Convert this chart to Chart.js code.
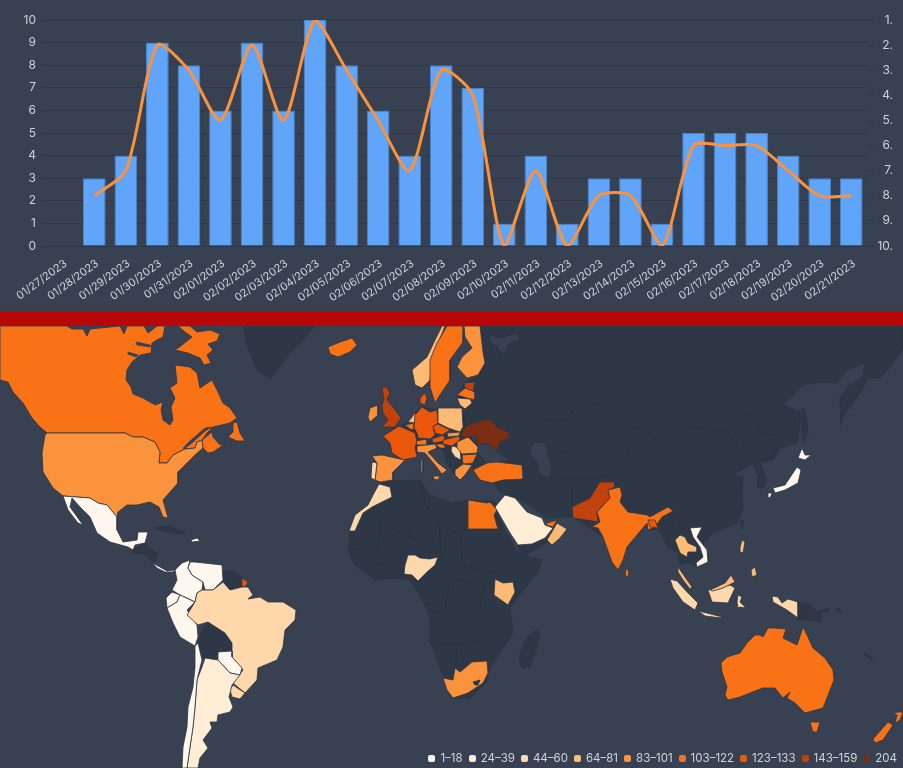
<!DOCTYPE html>
<html>
<head>
<meta charset="utf-8">
<script src="https://cdn.jsdelivr.net/npm/chart.js@4"></script>
<style>
  html, body { margin: 0; padding: 0; background: #374151; overflow: hidden; }
  body { width: 903px; height: 768px; position: relative; font-family: Inter, sans-serif; }
  #grafico-barras { position: absolute; left: 0; top: 0; }
  #faixa { position: absolute; left: 0; top: 311px; width: 903px; height: 15px; background: #b80707; z-index: 2; }
  #grafico-mapa { position: absolute; left: 0; top: 326px; }
  #legenda { position: absolute; right: 6px; top: 751px; display: flex; font-size: 11.5px; line-height: 14px; color: #d1d5db; z-index: 3; }
  #legenda span.item { display: flex; align-items: center; margin-left: 6px; }
  #legenda i { display: block; width: 7px; height: 7px; border-radius: 2px; margin-right: 5px; }
</style>
</head>
<body>
<canvas id="grafico-barras" width="903" height="311"></canvas>
<div id="faixa"></div>
<canvas id="grafico-mapa" width="903" height="442"></canvas>
<div id="legenda"></div>
<script>
// top chart
const dias = ['01/27/2023','01/28/2023','01/29/2023','01/30/2023','01/31/2023','02/01/2023','02/02/2023','02/03/2023','02/04/2023','02/05/2023','02/06/2023','02/07/2023','02/08/2023','02/09/2023','02/10/2023','02/11/2023','02/12/2023','02/13/2023','02/14/2023','02/15/2023','02/16/2023','02/17/2023','02/18/2023','02/19/2023','02/20/2023','02/21/2023'];
const quantidade = [null,3,4,9,8,6,9,6,10,8,6,4,8,7,1,4,1,3,3,1,5,5,5,4,3,3];
const posicao = [null,8,7,2,3,5,2,5,1,3,5,7,3,4,10,7,10,8,8,10,6,6,6,7,8,8];

// map legend
const faixas = ['1–18','24–39','44–60','64–81','83–101','103–122','123–133','143–159','204'];
const coresFaixas = ['#fff7ed','#ffedd5','#fed7aa','#fdba74','#fb923c','#f97316','#ea580c','#c2410c','#7c2d12'];

// map outlines, x,y pairs in map units (903 x 442 sheet, y from 326)
const greenland = [243,326,248,347,257,370,270,379,277,370,290,353,303,340,315,326];
const eurasia = [480,326,903,326,903,348,890,367,880,378,868,378,862,390,842,418,841,425,840,398,850,385,863,377,865,363,847,370,837,383,823,382,803,385,783,405,800,412,800,422,797,443,780,448,773,460,753,463,733,475,743,477,742,490,743,507,737,523,713,533,707,540,703,543,708,553,708,562,697,567,688,562,680,565,678,553,668,547,658,528,650,530,647,520,625,550,618,568,603,537,593,530,573,517,560,517,547,518,527,503,515,498,505,495,498,490,495,483,480,480,473,470,473,463,477,454,478,447,475,435,465,430,462,408,457,398,464,383,478,376,485,363,483,352];
const europeBase = [383,436,399,426,408,422,415,413,422,407,437,410,462,408,465,430,478,447,477,454,473,463,455,475,450,467,445,450,437,448,428,452,417,452,403,460,392,453,390,443];
const balkans = [443,448,455,447,461,460,463,464,455,470,450,467,447,463];
const africa = [379,484,393,481,420,480,430,495,452,503,468,500,495,502,500,520,517,553,542,560,537,573,517,598,510,607,513,633,497,657,488,673,487,682,470,698,452,698,445,680,437,660,430,640,430,620,428,612,420,595,410,580,395,578,375,580,355,565,348,550,350,531,355,515,368,505,373,495];
const madagascar = [537,629,540,633,537,647,530,667,522,668,519,658,525,640];
const yemen = [518,545,532,544,545,538,547,542,522,557];
const centralAmerica = [133,550,145,543,148,548,158,553,155,562,150,560,143,553,133,553];
const cuba = [155,528,170,526,185,533,175,534,160,530];
const guyanas = [223,572,232,570,243,578,242,587,230,590,223,580];
const bolivia = [208,622,225,633,232,643,232,651,218,652,213,660,203,657,197,646,199,637];
const korea = [753,465,760,463,767,480,763,488,757,487,758,477];
const taiwan = [740,522,744,520,742,529];
const sakhalin = [802,408,805,410,808,433,803,443,802,427];
const papua = [798,602,810,605,817,612,830,608,827,612,820,612,822,622,810,620,798,620];
const lesotho = [473,682,480,680,478,685,475,685];
const solomon = [837,608,843,612,842,613,836,609];
const vanuatu = [865,653,873,658,872,660,864,655];

const hudsonChannelA = [128,352,138,355,136,357,128,354];
const hudsonChannelB = [136,342,150,345,150,347,137,345];
const stLawrence = [183,448,190,441,205,428,212,427,205,431,192,443,184,449];
const blackSea = [478,445,490,443,497,450,497,452,510,460,498,463,487,463,477,453];
const caspian = [533,443,545,442,548,455,552,470,548,478,540,475,537,462,530,455];
const whiteSea = [488,333,497,338,503,337,517,333,520,340,510,343,503,355,497,347,490,342];

const canada = [0,326,67,326,72,329,83,329,87,336,90,329,120,326,124,334,127,326,144,326,148,333,157,326,165,326,163,337,157,340,152,343,151,353,140,355,132,362,127,370,126,380,131,387,133,394,143,398,155,405,163,402,161,410,163,420,170,425,173,420,171,407,175,398,170,388,177,383,175,365,190,367,197,373,200,388,212,380,218,392,223,403,230,408,237,418,230,423,213,427,207,433,202,440,197,442,195,448,185,449,173,455,167,463,159,463,160,452,155,442,143,437,133,437,125,433,47,433,40,427,32,418,23,403,13,392,8,382,0,380];
const baffin = [178,326,190,326,197,332,210,330,220,334,217,341,208,344,213,350,207,355,211,363,204,365,200,358,188,353,175,350,182,345,192,337,185,332];
const newfoundland = [233,423,237,422,240,433,245,441,237,441,228,437,233,432];
const maritimes = [202,440,212,432,213,437,220,445,225,444,213,452,208,453,203,448];
const usa = [45,435,47,433,125,433,133,437,143,437,155,442,160,452,159,463,167,463,173,455,185,449,195,448,197,442,202,440,203,448,195,455,187,463,178,472,178,483,170,492,163,500,168,518,163,517,159,507,150,502,137,505,127,505,118,512,117,517,107,505,98,503,90,498,63,496,53,488,43,472,42,453];
const mexico = [63,496,90,498,98,503,107,505,117,517,117,530,123,542,137,540,138,532,148,532,145,543,135,545,133,550,128,547,110,542,97,533,90,517,80,507,72,498,70,507,83,525,78,523,68,510];
const dominican = [191,540,197,538,200,541,192,542];
const panama = [152,563,160,567,167,571,175,570,173,572,165,572,157,568];
const colombia = [175,570,182,563,190,560,188,568,192,575,203,582,202,590,197,593,195,602,187,598,180,595,172,590,177,580];
const venezuela = [190,562,195,562,222,565,223,580,213,590,205,590,203,582,192,575,188,568];
const ecuador = [172,592,180,595,177,602,167,608,166,598];
const peru = [167,608,177,602,180,595,195,602,187,610,192,617,197,625,198,637,195,646,180,637,173,623];
const frenchGuiana = [242,578,248,582,245,587,242,586];
const brazil = [197,593,202,590,213,590,223,582,230,590,242,587,248,587,253,595,248,599,260,597,268,602,283,602,296,610,295,620,285,630,283,647,277,660,258,668,257,680,245,693,233,683,243,670,232,657,232,643,225,633,208,622,198,625,187,615,195,602];
const paraguay = [218,652,232,651,232,657,242,668,240,675,230,673,218,660];
const uruguay = [233,685,245,693,240,699,232,697,230,690];
const argentina = [205,658,218,660,230,673,240,675,232,685,229,697,233,707,230,712,218,715,217,722,210,722,212,728,203,740,208,748,200,758,198,768,187,768,190,747,193,727,195,707,197,680,202,667];
const chile = [195,646,198,643,202,660,197,680,195,707,193,727,190,747,187,768,182,768,183,747,187,727,188,707,193,687,195,667];

const iceland = [328,347,340,342,352,338,357,345,350,352,338,357,330,354];
const norway = [442,326,445,326,432,358,430,380,422,388,415,385,412,370,427,357,435,340];
const sweden = [447,326,464,326,463,342,450,360,450,380,440,395,435,403,430,387,430,360,437,343];
const finland = [464,326,480,326,483,352,485,363,478,375,467,378,457,367,462,357,472,348,465,337];
const estonia = [464,383,475,382,473,392,465,388];
const latvia = [457,395,465,388,475,392,475,400,467,398];
const lithuania = [457,398,470,399,472,403,465,409,460,405];
const denmark = [420,398,425,393,427,398,425,405,420,403];
const uk = [382,388,387,387,390,393,387,400,393,407,401,418,395,427,382,427,388,420,383,413,382,405,384,400];
const ireland = [370,408,378,405,378,415,370,422,368,417];
const france = [383,436,399,426,415,433,417,442,415,447,417,457,403,460,392,453,390,443];
const netherlands = [408,422,415,413,417,418,414,423];
const belgium = [405,425,414,423,414,430,410,429];
const germany = [422,407,430,412,437,410,438,423,433,427,435,435,430,439,418,438,417,433,414,428,415,415];
const poland = [438,408,462,408,463,427,460,432,448,428,438,423];
const czechia = [433,426,438,424,450,430,442,435,435,433];
const slovakia = [447,433,460,432,459,436,448,437];
const austria = [432,439,443,435,446,441,433,443];
const hungary = [443,440,459,436,460,440,452,446,443,444];
const switzerland = [416,441,427,439,427,445,417,445];
const italy = [417,446,427,445,435,444,437,448,428,452,438,463,447,470,442,474,435,465,425,453,417,452];
const sardinia = [421,460,423,460,423,472,421,472];
const sicily = [433,476,440,476,438,480,434,479];
const croatia = [435,444,443,444,446,448,440,448];
const serbia = [452,446,460,448,461,460,455,457,451,451];
const romania = [457,442,468,437,478,447,477,453,462,454,457,448];
const bulgaria = [462,455,477,454,473,463,463,464];
const ukraine = [461,435,465,427,473,423,490,419,497,427,508,432,510,437,500,442,497,450,492,448,490,443,478,445,475,435,465,438];
const spain = [372,456,382,455,405,460,393,472,393,480,380,482,375,480,377,463];
const portugal = [372,462,377,463,375,480,371,478];
const greece = [455,470,463,464,472,465,465,475,460,480,455,475];
const turkey = [473,470,487,463,497,462,522,465,523,479,503,480,492,483,480,480];

const morocco = [379,484,390,487,392,497,380,503,372,507,363,513,355,531,349,531,355,515,368,505,373,495];
const egypt = [468,500,487,503,490,502,497,510,494,515,498,529,468,529];
const nigeria = [408,555,415,555,420,558,430,559,438,557,435,565,427,572,418,581,412,575,404,574,405,565];
const kenya = [495,579,503,583,513,582,515,592,508,605,494,595];
const southAfrica = [443,678,453,680,455,668,460,672,472,662,487,661,488,673,483,683,468,693,453,698,447,690];
const saudi = [495,507,505,495,515,498,527,512,542,518,545,525,553,528,545,538,532,544,518,545,510,533];
const uae = [547,523,557,520,553,527,546,525];
const oman = [557,523,567,529,560,538,552,545,547,540,553,530];

const pakistan = [572,507,590,498,600,482,614,482,615,487,608,490,610,498,597,512,598,522,587,520,573,518];
const india = [608,490,620,487,622,495,620,502,628,512,647,515,650,517,657,513,668,507,673,511,662,517,655,527,648,530,647,523,627,547,623,560,618,570,612,562,603,537,598,528,592,527,600,522,597,512,610,498];
const bangladesh = [648,520,655,520,658,528,650,527];
const sriLanka = [626,568,629,572,628,577,625,575];
const thailand = [680,535,685,537,688,543,697,547,697,552,688,552,687,557,680,553,675,540];
const vietnam = [690,528,702,527,697,537,707,550,708,562,697,567,696,563,703,557,700,547,693,537];
const malaya = [678,567,685,577,692,587,690,589,683,580,678,572];
const luzon = [740,547,742,540,745,542,743,553,740,552];
const mindanao = [751,570,755,567,757,575,752,577];
const hokkaido = [802,448,805,455,811,455,805,460,798,458];
const honshu = [797,467,801,470,798,483,785,490,775,493,773,488,785,485];
const kyushu = [768,493,772,493,770,498,768,497];
const sumatra = [670,579,677,581,688,593,698,603,695,610,683,602,673,588];
const java = [698,611,707,613,722,617,721,618,705,616];
const borneo = [708,590,730,585,735,588,728,603,712,602];
const sarawak = [710,590,725,583,731,575,735,582,723,588,713,591];
const sulawesi = [738,595,742,597,740,602,746,608,740,607,738,608,737,602];
const westPapua = [782,603,788,599,798,602,798,618,787,610,773,602,772,596,778,597];
const australia = [721,663,727,657,740,653,747,643,755,635,760,635,763,637,768,628,775,628,786,629,783,638,797,645,803,627,807,635,813,648,825,658,833,670,834,680,823,708,805,713,795,703,787,698,790,692,783,698,775,688,763,688,750,693,740,697,728,700,725,695,727,687,722,672];
const tasmania = [810,722,820,722,817,732,813,732];
const nzNorth = [893,713,898,712,903,712,900,720,895,723,897,715];
const nzSouth = [888,722,893,725,883,740,875,743,873,739];

// internal borders of the countries without data
const bordasSemDados = [
  [420,480,425,502,408,538,380,518,372,510],
  [425,502,440,527,440,542,408,538],
  [468,529,460,533,440,527],
  [440,542,442,563,465,567],
  [460,533,462,557,465,567,493,573,517,553],
  [438,572,450,580,483,585,495,580],
  [450,580,445,612,432,612],
  [483,585,480,607,508,627],
  [432,642,460,645,480,640,492,657],
  [457,647,455,668],
  [380,518,378,550,348,548],
  [408,538,397,552,405,565],
  [373,565,390,563,403,577],
  [647,433,655,427,675,427,678,419,688,427,703,428,725,432,738,443,713,455,695,463,673,453,657,448,655,437,647,433],
  [725,432,740,415,753,415,760,433,780,437,772,457,753,463],
  [540,422,570,420,572,410,598,403,613,410,627,423,645,433,632,442,625,457,603,460,590,468,573,457,557,448,540,447],
  [625,457,608,477,614,482,620,487],
  [668,507,673,528,690,528],
  [540,477,560,477,572,487,573,517],
  [560,477,575,480,608,477]
];

const corSemDados = '#2e3746';
const corOceano = '#374151';

function pares(lista) {
  const pts = [];
  for (let i = 0; i < lista.length; i += 2) pts.push({ x: lista[i], y: lista[i + 1] });
  return pts;
}

function area(lista, cor, borda) {
  const pts = pares(lista);
  pts.push(pts[0]);
  return {
    data: pts, showLine: true, fill: 'shape', backgroundColor: cor,
    borderColor: borda, borderWidth: 0.8, pointRadius: 0, tension: 0
  };
}

function pais(lista, faixa) {
  return area(lista, coresFaixas[faixa], '#2d3644');
}

new Chart(document.getElementById('grafico-barras'), {
  data: {
    labels: dias,
    datasets: [
      {
        type: 'line', label: 'Posição', data: posicao, yAxisID: 'y1',
        borderColor: '#fb923c', borderWidth: 3, pointRadius: 0,
        tension: 0.25, order: 0
      },
      {
        type: 'bar', label: 'Quantidade', data: quantidade, yAxisID: 'y',
        backgroundColor: '#60a5fa', borderColor: '#4b85cc', borderWidth: 1, order: 1
      }
    ]
  },
  options: {
    responsive: false,
    animation: false,
    layout: { padding: { top: 20, right: 10 } },
    plugins: { legend: { display: false }, tooltip: { enabled: false } },
    scales: {
      x: {
        grid: { display: false },
        border: { display: false },
        ticks: { color: '#cfd3d9', font: { family: 'Inter', size: 11 }, minRotation: 36, maxRotation: 36, autoSkip: false, padding: 3, labelOffset: 3 },
        afterFit: s => { s.height = 65; }
      },
      y: {
        min: 0, max: 10,
        grid: { color: '#2f3847', tickLength: 6 },
        border: { display: false },
        ticks: { stepSize: 1, color: '#cfd3d9', font: { family: 'Inter', size: 12 }, padding: 5 },
        afterFit: s => { s.width = 47; }
      },
      y1: {
        position: 'right', reverse: true, min: 1, max: 10,
        grid: { drawOnChartArea: false, color: '#2f3847', tickLength: 7 },
        border: { display: false },
        ticks: { stepSize: 1, color: '#cfd3d9', font: { family: 'Inter', size: 12 }, crossAlign: 'far', callback: v => v + '.' },
        afterFit: s => { s.width = 26; }
      }
    }
  }
});

const mapaDatasets = [
  ...[greenland, eurasia, europeBase, balkans, africa, madagascar, yemen, centralAmerica, cuba, guyanas, bolivia, korea, taiwan, sakhalin, papua, solomon, vanuatu]
    .map(o => area(o, corSemDados, '#2b3340')),
  ...bordasSemDados.map(l => ({
    data: pares(l), showLine: true, fill: false, borderColor: '#2a3240', borderWidth: 1, pointRadius: 0
  })),
  ...[blackSea, caspian, whiteSea].map(o => area(o, corOceano, '#2b3340')),
  pais(canada, 5), pais(baffin, 5), pais(newfoundland, 5), pais(maritimes, 5),
  area(hudsonChannelA, corOceano, corOceano), area(hudsonChannelB, corOceano, corOceano), area(stLawrence, corOceano, corOceano),
  pais(usa, 4), pais(mexico, 0), pais(dominican, 0), pais(panama, 0), pais(colombia, 0), pais(venezuela, 0),
  pais(ecuador, 0), pais(peru, 0), pais(frenchGuiana, 6), pais(brazil, 2), pais(paraguay, 0), pais(uruguay, 2),
  pais(argentina, 1), pais(chile, 0), pais(iceland, 5), pais(norway, 3), pais(sweden, 5), pais(finland, 4),
  pais(estonia, 7), pais(latvia, 5), pais(lithuania, 3), pais(denmark, 6), pais(uk, 7), pais(ireland, 4),
  pais(france, 6), pais(netherlands, 3), pais(belgium, 5), pais(germany, 6), pais(poland, 3), pais(czechia, 6),
  pais(slovakia, 4), pais(austria, 6), pais(hungary, 6), pais(switzerland, 5), pais(italy, 4), pais(sardinia, 4),
  pais(sicily, 4), pais(croatia, 5), pais(serbia, 2), pais(romania, 4), pais(bulgaria, 5), pais(ukraine, 8),
  pais(spain, 4), pais(portugal, 2), pais(greece, 4), pais(turkey, 5), pais(morocco, 2), pais(egypt, 5),
  pais(nigeria, 2), pais(kenya, 3), pais(southAfrica, 4), area(lesotho, corSemDados, '#2b3340'), pais(saudi, 1), pais(uae, 5), pais(oman, 3),
  pais(pakistan, 7), pais(india, 5), pais(bangladesh, 6), pais(sriLanka, 5), pais(thailand, 3), pais(vietnam, 0),
  pais(malaya, 3), pais(luzon, 3), pais(mindanao, 3), pais(hokkaido, 0), pais(honshu, 0), pais(kyushu, 0),
  pais(sumatra, 2), pais(java, 2), pais(borneo, 2), pais(sarawak, 3), pais(sulawesi, 2), pais(westPapua, 2),
  pais(australia, 5), pais(tasmania, 5), pais(nzNorth, 5), pais(nzSouth, 5)
].reverse(); // chart.js paints the first dataset last

new Chart(document.getElementById('grafico-mapa'), {
  type: 'scatter',
  data: { datasets: mapaDatasets },
  options: {
    responsive: false,
    animation: false,
    layout: { padding: 0 },
    plugins: { legend: { display: false }, tooltip: { enabled: false } },
    scales: {
      x: { type: 'linear', display: false, min: 0, max: 903 },
      y: { type: 'linear', display: false, min: 326, max: 768, reverse: true }
    }
  }
});

const legenda = document.getElementById('legenda');
faixas.forEach((txt, i) => {
  const item = document.createElement('span');
  item.className = 'item';
  const cor = document.createElement('i');
  cor.style.background = coresFaixas[i];
  item.appendChild(cor);
  item.appendChild(document.createTextNode(txt));
  legenda.appendChild(item);
});
</script>
</body>
</html>
